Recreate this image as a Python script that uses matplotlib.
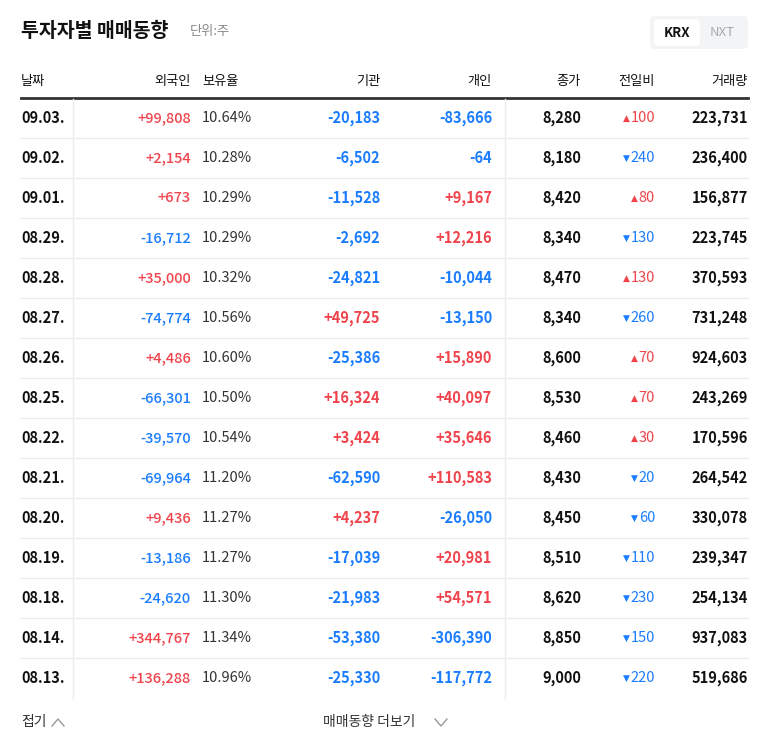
import matplotlib.pyplot as plt
from matplotlib.patches import FancyBboxPatch

plt.rcParams["font.family"] = ["Noto Sans CJK KR", "Noto Sans CJK JP", "Noto Sans CJK SC", "DejaVu Sans"]

# -------------------------
# Data
# -------------------------
dates = ["09.03.", "09.02.", "09.01.", "08.29.", "08.28.", "08.27.", "08.26.", "08.25.",
         "08.22.", "08.21.", "08.20.", "08.19.", "08.18.", "08.14.", "08.13."]
foreign = [99808, 2154, 673, -16712, 35000, -74774, 4486, -66301,
           -39570, -69964, 9436, -13186, -24620, 344767, 136288]
holding = ["10.64%", "10.28%", "10.29%", "10.29%", "10.32%", "10.56%", "10.60%", "10.50%",
           "10.54%", "11.20%", "11.27%", "11.27%", "11.30%", "11.34%", "10.96%"]
institution = [-20183, -6502, -11528, -2692, -24821, 49725, -25386, 16324,
               3424, -62590, 4237, -17039, -21983, -53380, -25330]
individual = [-83666, -64, 9167, 12216, -10044, -13150, 15890, 40097,
              35646, 110583, -26050, 20981, 54571, -306390, -117772]
close = [8280, 8180, 8420, 8340, 8470, 8340, 8600, 8530,
         8460, 8430, 8450, 8510, 8620, 8850, 9000]
change = [100, -240, 80, -130, 130, -260, 70, 70,
          30, -20, -60, -110, -230, -150, -220]
volume = [223731, 236400, 156877, 223745, 370593, 731248, 924603, 243269,
          170596, 264542, 330078, 239347, 254134, 937083, 519686]
headers = ["날짜", "외국인", "보유율", "기관", "개인", "종가", "전일비", "거래량"]

RED = "#f0434c"
BLUE = "#1a7cff"
DARK = "#111111"


def signed(v):
    return f"{v:+,}" if v > 0 else f"{v:,}"


def color_of(v):
    return RED if v > 0 else BLUE


fig = plt.figure(figsize=(7.68, 7.49), dpi=100)
ax = fig.add_axes([0, 0, 1, 1])
ax.set_xlim(0, 768)
ax.set_ylim(749, 0)
ax.axis("off")

# title
ax.text(21, 31, "투자자별 매매동향", fontsize=14, fontweight="bold", color=DARK, va="center")
ax.text(190, 31, "단위:주", fontsize=9.5, color="#888888", va="center")

# KRX / NXT toggle
ax.add_patch(FancyBboxPatch((650, 16), 98, 33, boxstyle="round,pad=0,rounding_size=5",
                            fc="#f3f4f6", ec="none"))
ax.add_patch(FancyBboxPatch((654, 19), 46, 27, boxstyle="round,pad=0,rounding_size=4",
                            fc="white", ec="none"))
ax.text(677, 33, "KRX", fontsize=9.5, fontweight="bold", color=DARK, ha="center", va="center")
ax.text(722, 33, "NXT", fontsize=9.5, color="#aaaaaa", ha="center", va="center")

# header
hy = 81
hx = [(21, "left"), (191, "right"), (202, "left"), (380, "right"),
      (492, "right"), (581, "right"), (655, "right"), (748, "right")]
for (x, ha), h in zip(hx, headers):
    ax.text(x, hy, h, fontsize=9.5, color=DARK, ha=ha, va="center")
ax.plot([21, 748], [98, 98], color="#333333", lw=2)

fig.canvas.draw()
renderer = fig.canvas.get_renderer()

row0, step = 118, 40
n = len(dates)
fs = 10.5
for i in range(n):
    y = row0 + i * step
    if i < n - 1:
        ax.plot([21, 748], [y + 20, y + 20], color="#ececec", lw=1)
    ax.text(21, y, dates[i], fontsize=fs, fontweight="bold", color=DARK, va="center")
    ax.text(191, y, signed(foreign[i]), fontsize=fs, fontweight="medium",
            color=color_of(foreign[i]), ha="right", va="center")
    ax.text(202, y, holding[i], fontsize=fs, color="#333333", ha="left", va="center")
    ax.text(380, y, signed(institution[i]), fontsize=fs, fontweight="bold",
            color=color_of(institution[i]), ha="right", va="center")
    ax.text(492, y, signed(individual[i]), fontsize=fs, fontweight="bold",
            color=color_of(individual[i]), ha="right", va="center")
    ax.text(581, y, f"{close[i]:,}", fontsize=fs, fontweight="bold", color=DARK, ha="right", va="center")
    c = change[i]
    t = ax.text(655, y, f"{abs(c)}", fontsize=fs, color=color_of(c), ha="right", va="center")
    w = t.get_window_extent(renderer).width
    ax.text(655 - w - 1, y, "▲" if c > 0 else "▼", fontsize=6.5,
            color=color_of(c), ha="right", va="center", family="DejaVu Sans")
    ax.text(748, y, f"{volume[i]:,}", fontsize=fs, fontweight="bold", color=DARK, ha="right", va="center")

# vertical separators
last = row0 + (n - 1) * step + 20
ax.plot([73, 73], [99, last], color="#ececec", lw=1)
ax.plot([505, 505], [99, last], color="#ececec", lw=1)

# footer
ax.text(21, 722, "접기", fontsize=10, color="#333333", va="center")
ax.plot([52, 58, 64], [726, 719, 726], color="#999999", lw=1)
ax.text(323, 722, "매매동향 더보기", fontsize=10, color="#333333", va="center")
ax.plot([435, 441, 447], [719, 726, 719], color="#999999", lw=1)

fig.savefig("out.png", dpi=100)
